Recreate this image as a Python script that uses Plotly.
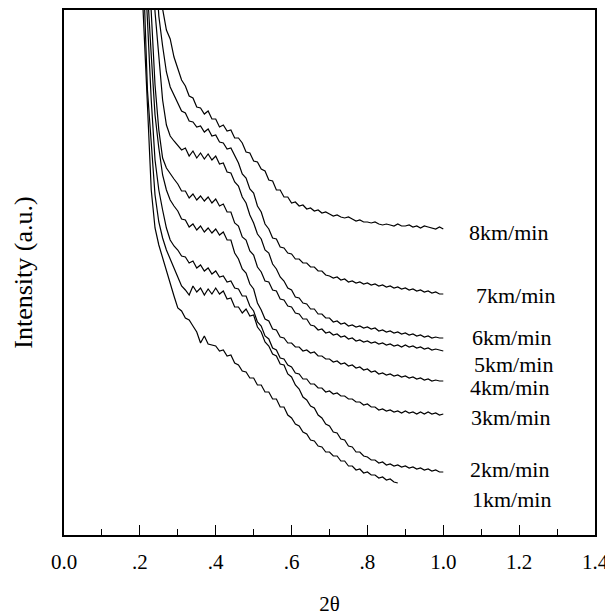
import plotly.graph_objects as go

# 2-theta grid
two_theta = [0.20, 0.21, 0.22, 0.23, 0.24, 0.25, 0.26, 0.27, 0.28, 0.29,
             0.30, 0.31, 0.32, 0.33, 0.34, 0.35, 0.36, 0.37, 0.38, 0.39,
             0.40, 0.41, 0.42, 0.43, 0.44, 0.45, 0.46, 0.47, 0.48, 0.49,
             0.50, 0.51, 0.52, 0.53, 0.54, 0.55, 0.56, 0.57, 0.58, 0.59,
             0.60, 0.61, 0.62, 0.63, 0.64, 0.65, 0.66, 0.67, 0.68, 0.69,
             0.70, 0.71, 0.72, 0.73, 0.74, 0.75, 0.76, 0.77, 0.78, 0.79,
             0.80, 0.81, 0.82, 0.83, 0.84, 0.85, 0.86, 0.87, 0.88, 0.89,
             0.90, 0.91, 0.92, 0.93, 0.94, 0.95, 0.96, 0.97, 0.98, 0.99,
             1.00]

# intensity (a.u.) for each take-up speed
i_8 = [800, 760, 720, 680, 620, 570, 526, 505, 496, 478,
       467, 455, 449, 439, 437, 428, 427, 421, 424, 416,
       416, 408, 410, 404, 405, 397, 397, 392, 383, 382,
       374, 373, 366, 364, 355, 354, 345, 345, 338, 338,
       332, 333, 329, 330, 326, 327, 324, 325, 322, 323,
       321, 319, 320, 318, 317, 318, 316, 314, 315, 313,
       313, 312, 313, 311, 310, 311, 310, 309, 311, 309,
       309, 310, 308, 309, 307, 309, 308, 307, 306, 308,
       306]
i_7 = [760, 720, 680, 640, 580, 519, 489, 463, 448, 440,
       433, 424, 422, 414, 413, 408, 409, 403, 406, 399,
       400, 393, 392, 386, 387, 380, 372, 361, 357, 346,
       342, 329, 323, 311, 306, 297, 296, 288, 287, 282,
       281, 276, 276, 272, 272, 268, 268, 264, 264, 260,
       259, 257, 258, 255, 256, 253, 254, 252, 253, 251,
       252, 250, 251, 249, 250, 248, 249, 247, 248, 246,
       247, 245, 246, 244, 245, 243, 244, 242, 243, 241,
       241]
i_6 = [720, 680, 640, 590, 523, 475, 435, 410, 399, 394,
       390, 385, 387, 379, 384, 377, 382, 376, 381, 375,
       379, 371, 372, 363, 362, 353, 349, 338, 332, 320,
       312, 301, 296, 285, 282, 271, 266, 258, 254, 247,
       245, 238, 237, 232, 231, 226, 226, 221, 221, 217,
       217, 213, 214, 211, 212, 209, 210, 208, 209, 207,
       208, 206, 207, 204, 205, 203, 204, 202, 203, 201,
       202, 200, 201, 199, 200, 198, 199, 197, 198, 197,
       197]
i_5 = [680, 640, 590, 523, 450, 405, 377, 367, 361, 356,
       351, 344, 344, 337, 341, 335, 339, 334, 338, 332,
       336, 329, 331, 323, 323, 312, 309, 298, 295, 284,
       280, 268, 263, 254, 253, 245, 244, 236, 235, 229,
       228, 222, 221, 216, 216, 210, 209, 205, 206, 202,
       203, 200, 201, 198, 199, 196, 197, 194, 195, 193,
       194, 192, 193, 191, 192, 190, 191, 189, 190, 188,
       190, 188, 189, 187, 188, 186, 187, 185, 186, 185,
       184]
i_4 = [680, 620, 545, 480, 420, 387, 360, 345, 335, 329,
       324, 316, 315, 308, 311, 305, 309, 303, 307, 302,
       306, 300, 303, 295, 295, 282, 276, 266, 262, 251,
       246, 232, 225, 216, 214, 206, 205, 198, 197, 192,
       192, 188, 188, 184, 185, 182, 183, 179, 179, 176,
       176, 173, 174, 171, 172, 169, 170, 167, 168, 165,
       166, 163, 164, 161, 162, 160, 161, 159, 160, 158,
       159, 157, 158, 156, 157, 155, 156, 154, 155, 154,
       154]
i_3 = [650, 590, 515, 435, 375, 345, 325, 307, 295, 289,
       285, 279, 278, 272, 274, 267, 270, 264, 267, 261,
       264, 258, 259, 253, 254, 247, 246, 239, 239, 229,
       224, 213, 209, 199, 196, 187, 185, 177, 176, 170,
       168, 162, 161, 156, 156, 151, 151, 147, 147, 143,
       144, 141, 142, 139, 139, 136, 136, 133, 133, 130,
       131, 128, 128, 125, 126, 124, 125, 123, 124, 122,
       124, 122, 123, 121, 123, 121, 123, 121, 122, 120,
       121]
i_2 = [620, 555, 445, 395, 340, 313, 297, 285, 275, 267,
       258, 249, 245, 240, 249, 243, 247, 240, 246, 241,
       247, 241, 244, 236, 237, 228, 228, 222, 226, 219,
       220, 208, 203, 193, 189, 181, 179, 171, 170, 161,
       158, 150, 146, 138, 135, 129, 127, 120, 117, 111,
       109, 103, 102, 96, 95, 89, 88, 83, 83, 79,
       78, 75, 75, 72, 73, 70, 71, 69, 70, 68,
       69, 67, 68, 66, 67, 65, 66, 64, 65, 63,
       63]
i_1 = [595, 505, 430, 345, 307, 290, 277, 263, 250, 239,
       227, 224, 217, 215, 209, 203, 192, 199, 191, 190,
       189, 184, 185, 179, 180, 172, 170, 164, 163, 157,
       157, 150, 150, 143, 143, 136, 136, 128, 128, 120,
       117, 111, 109, 103, 101, 95, 94, 89, 88, 83,
       83, 79, 79, 74, 74, 69, 69, 65, 66, 62,
       63, 60, 60, 57, 58, 55, 56, 53, 52, None,
       None, None, None, None, None, None, None, None, None, None,
       None]

series = [("8km/min", i_8), ("7km/min", i_7), ("6km/min", i_6), ("5km/min", i_5),
          ("4km/min", i_4), ("3km/min", i_3), ("2km/min", i_2), ("1km/min", i_1)]

# curve labels: text, left edge (2θ) and vertical centre (a.u.)
label_text = ["8km/min", "7km/min", "6km/min", "5km/min", "4km/min", "3km/min", "2km/min", "1km/min"]
label_x = [1.066, 1.084, 1.074, 1.079, 1.069, 1.071, 1.069, 1.074]
label_y = [303, 240, 198, 171, 148, 118, 66, 36]

tick_vals = [0.0, 0.2, 0.4, 0.6, 0.8, 1.0, 1.2, 1.4]
tick_text = ["0.0", ".2", ".4", ".6", ".8", "1.0", "1.2", "1.4"]

FONT = "Liberation Serif, Times New Roman, serif"

fig = go.Figure()
for name, vals in series:
    fig.add_trace(go.Scatter(x=two_theta, y=vals, mode="lines", name=name,
                             line=dict(color="black", width=1.2), connectgaps=False,
                             showlegend=False))

for t, lx, ly in zip(label_text, label_x, label_y):
    fig.add_annotation(x=lx, y=ly, xref="x", yref="y", text=t, showarrow=False,
                       xanchor="left", yanchor="middle", borderpad=0,
                       font=dict(family=FONT, size=22, color="black"))

# page body adds an 8px offset, so the figure is 8px smaller than the window
fig.update_layout(
    width=605, height=608,
    margin=dict(l=56, r=18, t=2, b=81),
    paper_bgcolor="white", plot_bgcolor="white",
    font=dict(family=FONT, color="black"),
)
fig.update_xaxes(
    range=[0, 1.4], tickvals=tick_vals, ticktext=tick_text, automargin=False,
    ticks="inside", ticklen=10, tickwidth=1, tickcolor="black", ticklabelstandoff=7,
    minor=dict(ticks="inside", ticklen=6, dtick=0.1, tick0=0, tickcolor="black", showgrid=False),
    showline=True, linewidth=2, linecolor="black", mirror=True,
    showgrid=False, zeroline=False,
    tickfont=dict(family=FONT, size=21, color="black"),
    title=dict(text="2θ", font=dict(family=FONT, size=21, color="black"), standoff=26),
)
fig.update_yaxes(
    range=[0, 525], showticklabels=False, ticks="", automargin=False,
    showline=True, linewidth=2, linecolor="black", mirror=True,
    showgrid=False, zeroline=False,
    title=dict(text="Intensity (a.u.)", font=dict(family=FONT, size=26, color="black"), standoff=22),
)

fig.write_html("out.html")
